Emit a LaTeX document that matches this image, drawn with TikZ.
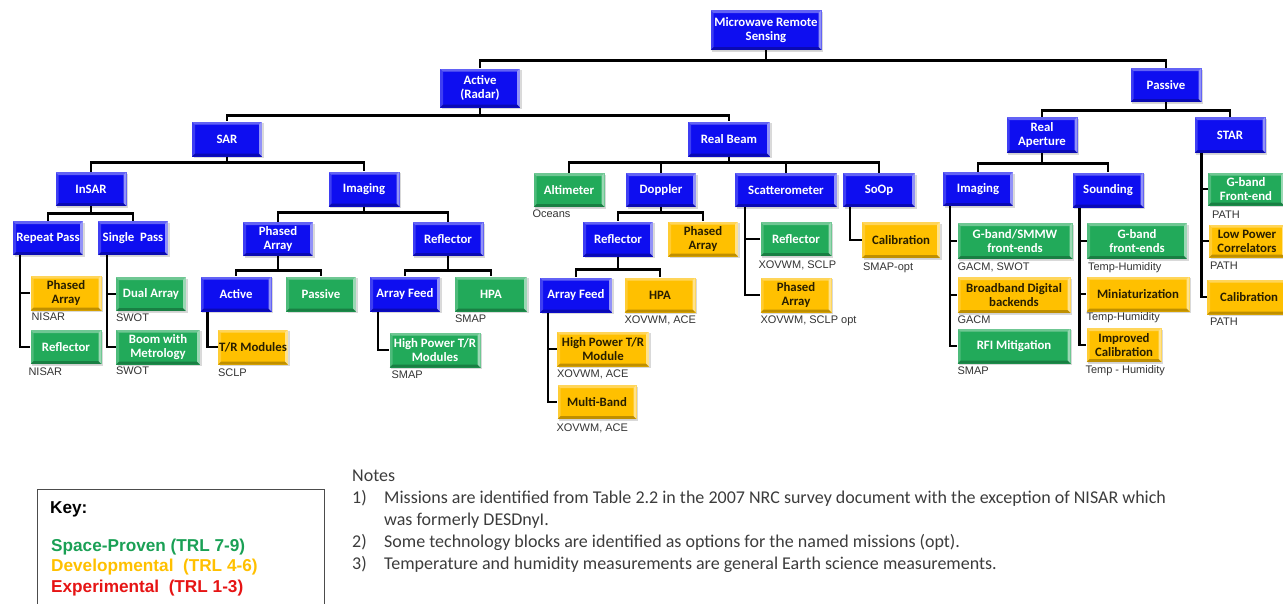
\documentclass[tikz,border=0pt]{standalone}
\usepackage{fontspec}
\setmainfont{Carlito}
\newfontfamily\arialf{Liberation Sans}
\usetikzlibrary{shadows,calc}
\definecolor{bxblue}{RGB}{14,14,240}
\definecolor{bxgreen}{RGB}{34,170,90}
\definecolor{bxyellow}{RGB}{255,192,0}
\definecolor{ytext}{RGB}{40,30,0}
\definecolor{keygreen}{RGB}{26,160,85}
\definecolor{keyyellow}{RGB}{255,192,0}
\definecolor{keyred}{RGB}{230,20,20}
\definecolor{notegray}{RGB}{60,60,60}
\tikzset{
 bevel/.style={path picture={
  \coordinate (bvA) at (path picture bounding box.north west);
  \coordinate (bvB) at (path picture bounding box.north east);
  \coordinate (bvC) at (path picture bounding box.south east);
  \coordinate (bvD) at (path picture bounding box.south west);
  \fill[white,opacity=.35] (bvA) -- (bvB) -- ([shift={(-3,3)}]bvB) -- ([shift={(3,3)}]bvA) -- cycle;
  \fill[white,opacity=.2] (bvA) -- (bvD) -- ([shift={(3,-3)}]bvD) -- ([shift={(3,3)}]bvA) -- cycle;
  \fill[white,opacity=.55] (bvB) -- (bvC) -- ([shift={(-3,-3)}]bvC) -- ([shift={(-3,3)}]bvB) -- cycle;
  \fill[black,opacity=.25] (bvD) -- (bvC) -- ([shift={(-3,-3)}]bvC) -- ([shift={(3,-3)}]bvD) -- cycle;
 }},
 bx/.style={rectangle, inner sep=1pt, align=center,
   font=\fontsize{12.8}{13.8}\selectfont\bfseries,
   drop shadow={shadow xshift=1.5pt,shadow yshift=-1.5pt,opacity=.3}, bevel},
 bb/.style={bx,fill=bxblue,text=white},
 gb/.style={bx,fill=bxgreen,text=white},
 yb/.style={bx,fill=bxyellow,text=ytext},
 sz/.style n args={2}{minimum width=#1pt, minimum height=#2pt},
 conn/.style={line width=2.6pt, black},
 lbl/.style={font=\arialf\fontsize{11}{12}\selectfont, text=black!80, inner sep=0pt, anchor=north west},
 notes/.style={font=\fontsize{18}{20}\selectfont, text=notegray, inner sep=0pt, anchor=base west},
 keyt/.style={font=\arialf\bfseries\fontsize{17.2}{19}\selectfont, inner sep=0pt, anchor=base west},
}
\begin{document}
\begin{tikzpicture}[x=1pt,y=-1pt]
\useasboundingbox (0,0) rectangle (1283,603);
% ---------- blue nodes
\node[bb,sz={111}{40}] (mrs) at (766,30) {Microwave Remote\\Sensing};
\node[bb,sz={80}{39}] (active) at (480,88) {Active\\(Radar)};
\node[bb,sz={71}{34}] (passive) at (1166,85) {Passive};
\node[bb,sz={70}{35}] (sar) at (227,139) {SAR};
\node[bb,sz={82}{35}] (realbeam) at (729,139) {Real Beam};
\node[bb,sz={71}{34}] (insar) at (91,189) {InSAR};
\node[bb,sz={71}{35}] (sarimg) at (364,189) {Imaging};
\node[bb,sz={70}{34}] (repeat) at (48,238) {Repeat Pass};
\node[bb,sz={70}{34}] (single) at (133,238) {Single~ Pass};
\node[bb,sz={70}{34}] (sarpa) at (278,239) {Phased\\Array};
\node[bb,sz={71}{34}] (sarrefl) at (448,239) {Reflector};
\node[bb,sz={71}{35}] (saractive) at (236,294) {Active};
\node[bb,sz={70}{35}] (sarfeed) at (405,294) {Array Feed};
\node[bb,sz={70}{34}] (doppler) at (661,190) {Doppler};
\node[bb,sz={102}{34}] (scat) at (786,190) {Scatterometer};
\node[bb,sz={72}{34}] (soop) at (879,190) {SoOp};
\node[bb,sz={70}{35}] (dopprefl) at (618,239) {Reflector};
\node[bb,sz={72}{35}] (doppfeed) at (576,295) {Array Feed};
\node[bb,sz={71}{36}] (realap) at (1042,135) {Real\\Aperture};
\node[bb,sz={71}{36}] (star) at (1230,135) {STAR};
\node[bb,sz={70}{34}] (pimg) at (978,189) {Imaging};
\node[bb,sz={71}{35}] (sounding) at (1108,190) {Sounding};
% ---------- green nodes
\node[gb,sz={70}{35}] (sarpassive) at (321,294) {Passive};
\node[gb,sz={70}{34}] (dualarray) at (151,294) {Dual Array};
\node[gb,sz={84}{35}] (boom) at (158,347) {Boom with\\Metrology};
\node[gb,sz={71}{34}] (reflnisar) at (66,347) {Reflector};
\node[gb,sz={72}{35}] (sarhpa) at (491,294) {HPA};
\node[gb,sz={91}{35}] (hptr) at (435,350) {High Power T/R\\Modules};
\node[gb,sz={71}{34}] (altimeter) at (569,190) {Altimeter};
\node[gb,sz={71}{34}] (scatrefl) at (796,239) {Reflector};
\node[gb,sz={115}{36}] (gsmmw) at (1015,241) {G-band/SMMW\\front-ends};
\node[gb,sz={113}{35}] (rfi) at (1014,346) {RFI Mitigation};
\node[gb,sz={100}{36}] (gbandfe) at (1137,241) {G-band\\front-ends};
\node[gb,sz={76}{33}] (stargband) at (1246,189) {G-band\\Front-end};
% ---------- yellow nodes
\node[yb,sz={71}{35}] (panisar) at (66,293) {Phased\\Array};
\node[yb,sz={70}{35}] (trmod) at (253,347) {T/R Modules};
\node[yb,sz={70}{35}] (doppa) at (703,239) {Phased\\Array};
\node[yb,sz={71}{35}] (dopphpa) at (660,295) {HPA};
\node[yb,sz={92}{35}] (hptrm) at (603,349) {High Power T/R\\Module};
\node[yb,sz={79}{34}] (multiband) at (597,402) {Multi-Band};
\node[yb,sz={71}{35}] (scatpa) at (796,295) {Phased\\Array};
\node[yb,sz={78}{36}] (soopcal) at (901,240) {Calibration};
\node[yb,sz={113}{36}] (broadband) at (1014,295) {Broadband Digital\\backends};
\node[yb,sz={103}{35}] (mini) at (1138,294) {Miniaturization};
\node[yb,sz={75}{34}] (impcal) at (1124,345) {Improved\\Calibration};
\node[yb,sz={76}{33}] (lowpower) at (1247,241) {Low Power\\Correlators};
\node[yb,sz={84}{35}] (starcal) at (1249,297) {Calibration};
% ---------- tree connectors
\draw[conn] (mrs.south) -- ++(0,10) -| (active.north);
\draw[conn] (mrs.south) -- ++(0,10) -| (passive.north);
\draw[conn] (active.south) -- ++(0,8) -| (sar.north);
\draw[conn] (active.south) -- ++(0,8) -| (realbeam.north);
\draw[conn] (sar.south) -- ++(0,6) -| (insar.north);
\draw[conn] (sar.south) -- ++(0,6) -| (sarimg.north);
\draw[conn] (insar.south) -- ++(0,7) -| (repeat.north);
\draw[conn] (insar.south) -- ++(0,7) -| (single.north);
\draw[conn] (sarimg.south) -- ++(0,6) -| (sarpa.north);
\draw[conn] (sarimg.south) -- ++(0,6) -| (sarrefl.north);
\draw[conn] (sarpa.south) -- ++(0,14) -| (saractive.north);
\draw[conn] (sarpa.south) -- ++(0,14) -| (sarpassive.north);
\draw[conn] (sarrefl.south) -- ++(0,14) -| (sarfeed.north);
\draw[conn] (sarrefl.south) -- ++(0,14) -| (sarhpa.north);
\draw[conn] (realbeam.south) -- ++(0,6) -| (altimeter.north);
\draw[conn] (realbeam.south) -- ++(0,6) -| (doppler.north);
\draw[conn] (realbeam.south) -- ++(0,6) -| (scat.north);
\draw[conn] (realbeam.south) -- ++(0,6) -| (soop.north);
\draw[conn] (doppler.south) -- ++(0,5) -| (dopprefl.north);
\draw[conn] (doppler.south) -- ++(0,5) -| (doppa.north);
\draw[conn] (dopprefl.south) -- ++(0,13) -| (doppfeed.north);
\draw[conn] (dopprefl.south) -- ++(0,13) -| (dopphpa.north);
\draw[conn] (passive.south) -- ++(0,8) -| (realap.north);
\draw[conn] (passive.south) -- ++(0,8) -| (star.north);
\draw[conn] (realap.south) -- ++(0,10) -| (pimg.north);
\draw[conn] (realap.south) -- ++(0,10) -| (sounding.north);
% ---------- side connectors
\draw[conn] ([xshift=7pt]repeat.south west) |- (panisar.west);
\draw[conn] ([xshift=7pt]repeat.south west) |- (reflnisar.west);
\draw[conn] ([xshift=9pt]single.south west) |- (dualarray.west);
\draw[conn] ([xshift=9pt]single.south west) |- (boom.west);
\draw[conn] ([xshift=7pt]saractive.south west) |- (trmod.west);
\draw[conn] ([xshift=8pt]sarfeed.south west) |- (hptr.west);
\draw[conn] ([xshift=8pt]doppfeed.south west) |- (hptrm.west);
\draw[conn] ([xshift=8pt]doppfeed.south west) |- (multiband.west);
\draw[conn] ([xshift=10pt]scat.south west) |- (scatrefl.west);
\draw[conn] ([xshift=10pt]scat.south west) |- (scatpa.west);
\draw[conn] ([xshift=7pt]soop.south west) |- (soopcal.west);
\draw[conn] ([xshift=7pt]pimg.south west) |- (gsmmw.west);
\draw[conn] ([xshift=7pt]pimg.south west) |- (broadband.west);
\draw[conn] ([xshift=7pt]pimg.south west) |- (rfi.west);
\draw[conn] ([xshift=7pt]sounding.south west) |- (gbandfe.west);
\draw[conn] ([xshift=7pt]sounding.south west) |- (mini.west);
\draw[conn] ([xshift=7pt]sounding.south west) |- (impcal.west);
\draw[conn] ([xshift=7pt]star.south west) |- (stargband.west);
\draw[conn] ([xshift=7pt]star.south west) |- (lowpower.west);
\draw[conn] ([xshift=7pt]star.south west) |- (starcal.west);
% ---------- mission labels
\node[lbl] (l1) at ([shift={(1,2)}]panisar.south west) {NISAR};
\node[lbl] (l2) at ([shift={(-2,3)}]reflnisar.south west) {NISAR};
\node[lbl] (l3) at ([shift={(0,2)}]dualarray.south west) {SWOT};
\node[lbl] (l4) at ([shift={(0,2)}]boom.south west) {SWOT};
\node[lbl] (l5) at ([shift={(0,4)}]trmod.south west) {SCLP};
\node[lbl] (l6) at ([shift={(0,3)}]sarhpa.south west) {SMAP};
\node[lbl] (l7) at ([shift={(2,3)}]hptr.south west) {SMAP};
\node[lbl] (l8) at ([shift={(-1,2)}]altimeter.south west) {Oceans};
\node[lbl] (l9) at ([shift={(0,3)}]dopphpa.south west) {XOVWM, ACE};
\node[lbl] (l10) at ([shift={(0,3)}]hptrm.south west) {XOVWM, ACE};
\node[lbl] (l11) at ([shift={(-1,4)}]multiband.south west) {XOVWM, ACE};
\node[lbl] (l12) at ([shift={(-2,4)}]scatrefl.south west) {XOVWM, SCLP};
\node[lbl] (l13) at ([shift={(0,3)}]scatpa.south west) {XOVWM, SCLP opt};
\node[lbl] (l14) at ([shift={(1,4)}]soopcal.south west) {SMAP-opt};
\node[lbl] (l15) at ([shift={(0,3)}]gsmmw.south west) {GACM, SWOT};
\node[lbl] (l16) at ([shift={(0,2)}]broadband.south west) {GACM};
\node[lbl] (l17) at ([shift={(0,3)}]rfi.south west) {SMAP};
\node[lbl] (l18) at ([shift={(1,3)}]gbandfe.south west) {Temp-Humidity};
\node[lbl] (l19) at ([shift={(0,1)}]mini.south west) {Temp-Humidity};
\node[lbl] (l20) at ([shift={(-1,3)}]impcal.south west) {Temp - Humidity};
\node[lbl] (l21) at ([shift={(4,5)}]stargband.south west) {PATH};
\node[lbl] (l22) at ([shift={(1,4)}]lowpower.south west) {PATH};
\node[lbl] (l23) at ([shift={(3,3)}]starcal.south west) {PATH};
% ---------- key
\draw[black!70, line width=1pt] (37,489) rectangle (324,615);
\node[keyt] (key) at (50,513) {Key:};
\node[keyt, text=keygreen] (k1) at (51,551) {Space-Proven (TRL 7-9)};
\node[keyt, text=keyyellow] (k2) at (51,571) {Developmental~ (TRL 4-6)};
\node[keyt, text=keyred] (k3) at (51,592) {Experimental~ (TRL 1-3)};
% ---------- notes
\node[notes] (nt) at (352,481) {Notes};
\node[notes] (n1) at (352,503) {1)};
\node[notes] (n1a) at (384,503) {Missions are identified from Table 2.2 in the 2007 NRC survey document with the exception of NISAR which};
\node[notes] (n1b) at (384,525) {was formerly DESDnyI.};
\node[notes] (n2) at (352,547) {2)};
\node[notes] (n2a) at (384,547) {Some technology blocks are identified as options for the named missions (opt).};
\node[notes] (n3) at (352,569) {3)};
\node[notes] (n3a) at (384,569) {Temperature and humidity measurements are general Earth science measurements.};
\end{tikzpicture}
\end{document}
